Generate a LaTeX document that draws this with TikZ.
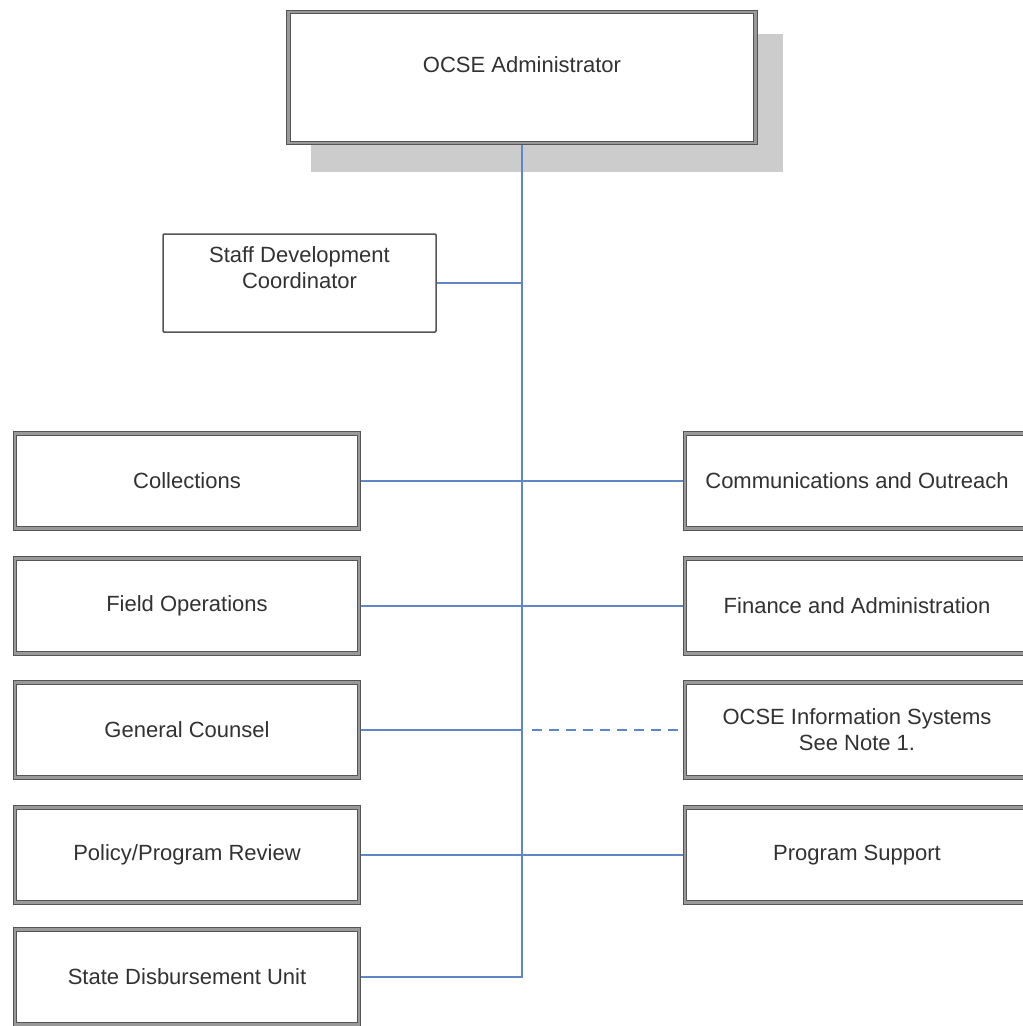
\documentclass[tikz,border=0pt]{standalone}
\usepackage{fontspec}
\setmainfont{Liberation Sans}
\usetikzlibrary{backgrounds}
\definecolor{linkblue}{RGB}{95,135,200}
\definecolor{boxedge}{RGB}{85,85,85}
\definecolor{txt}{RGB}{50,50,50}
\begin{document}
\begin{tikzpicture}[x=1pt,y=-1pt,
  every node/.style={font=\fontsize{22}{26}\selectfont, text=txt},
  dbox/.style={draw=boxedge, line width=1pt, double=black!40, double distance=2.6pt, fill=white, minimum width=344pt, minimum height=95pt, inner sep=0pt, align=center},
  sbox/.style={draw=boxedge, line width=1.5pt, rounded corners=1pt, fill=white, minimum width=273pt, minimum height=98pt, inner sep=0pt},
  conn/.style={draw=linkblue, line width=1.5pt},
  dconn/.style={draw=linkblue, line width=2.6pt, dash pattern=on 10pt off 7pt},
  faintdash/.style={draw=linkblue!45, line width=2.2pt, dash pattern=on 9pt off 7pt}]
\useasboundingbox (0,0) rectangle (1023,1026);
\clip (0,0) rectangle (1023,1026);
% top box
\node[dbox, minimum width=467pt, minimum height=131pt] (admin) at (522,77.5) {};
\node (admintext) at (522,65) {OCSE Administrator};
% staff box
\node[sbox] (staff) at (299.5,283) {};
\node[align=center] (stafftext) at (299.5,268) {Staff Development\\Coordinator};
% left column
\node[dbox] (coll) at (187,481) {Collections};
\node[dbox] (field) at (187,606) {Field Operations};
\node[dbox] (gc) at (187,730) {General Counsel};
\node[dbox] (ppr) at (187,855) {Policy/Program Review};
\node[dbox] (sdu) at (187,977) {State Disbursement Unit};
% right column
\node[dbox] (comm) at (857,481) {Communications and Outreach};
\node[dbox] (fin) at (857,606) {Finance and Administration};
\node[dbox] (ois) at (857,730) {OCSE Information Systems\\See Note 1.};
\node[dbox] (ps) at (857,855) {Program Support};
\begin{scope}[on background layer]
  \fill[black!20] (311,34) rectangle (783,172);
  \draw[faintdash] (admin.south) -- (admin.south |- gc.east);
  \draw[dconn] ([xshift=10pt]admin.south |- gc.east) -- (ois.west);
  \draw[conn] (admin.south) -- (admin.south |- sdu.east) -- (sdu.east);
  \draw[conn] (staff.east) -- (staff.east -| admin.south);
  \draw[conn] (coll.east) -- (comm.west);
  \draw[conn] (field.east) -- (fin.west);
  \draw[conn] (gc.east) -- (gc.east -| admin.south);
  \draw[conn] (ppr.east) -- (ps.west);
\end{scope}
\end{tikzpicture}
\end{document}
